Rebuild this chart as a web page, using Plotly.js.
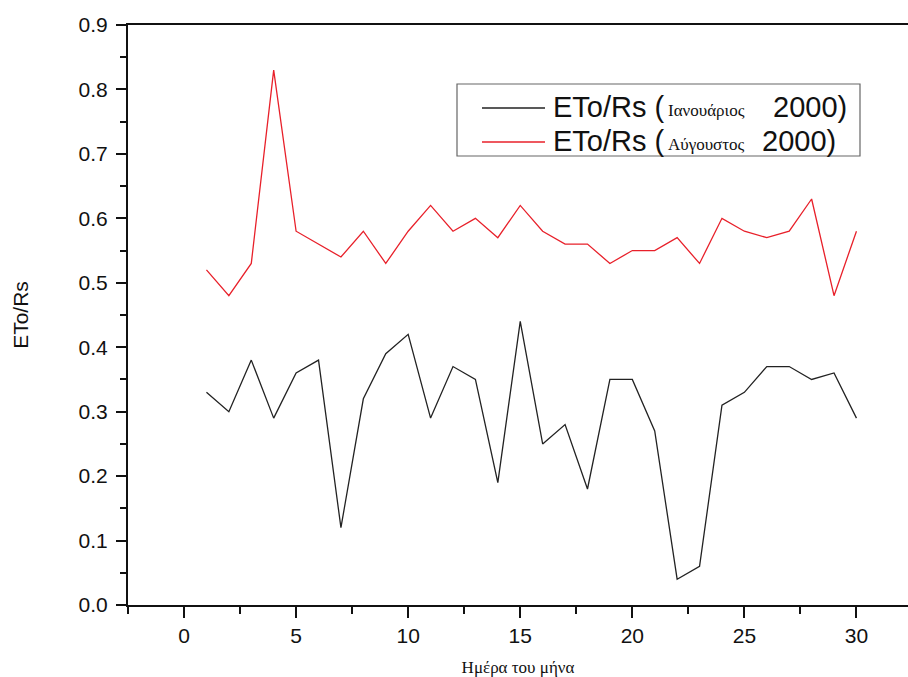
<!DOCTYPE html>
<html>
<head>
<meta charset="utf-8">
<script src="https://cdn.plot.ly/plotly-3.0.1.min.js"></script>
<style>html,body{margin:0;padding:0;background:#fff;}#chart{width:908px;height:677px;}</style>
</head>
<body>
<div id="chart"></div>
<script>
const days = [1,2,3,4,5,6,7,8,9,10,11,12,13,14,15,16,17,18,19,20,21,22,23,24,25,26,27,28,29,30];
const january = [0.33,0.30,0.38,0.29,0.36,0.38,0.12,0.32,0.39,0.42,0.29,0.37,0.35,0.19,0.44,0.25,0.28,0.18,0.35,0.35,0.27,0.04,0.06,0.31,0.33,0.37,0.37,0.35,0.36,0.29];
const august = [0.52,0.48,0.53,0.83,0.58,0.56,0.54,0.58,0.53,0.58,0.62,0.58,0.60,0.57,0.62,0.58,0.56,0.56,0.53,0.55,0.55,0.57,0.53,0.60,0.58,0.57,0.58,0.63,0.48,0.58];
const xTicks = [0,5,10,15,20,25,30];
const yTicks = [0,0.1,0.2,0.3,0.4,0.5,0.6,0.7,0.8,0.9];
const seriesLabel = 'ETo/Rs (';
const monthNames = ['Ιανουάριος', 'Αύγουστος'];
const yearLabel = '2000)';
const seriesColors = ['#222222', '#e8202a'];

const sans = 'Liberation Sans, Arial, sans-serif';
const serif = 'Liberation Serif, Times New Roman, serif';

const traces = [
  {x: days, y: january, type: 'scatter', mode: 'lines', line: {color: seriesColors[0], width: 1.3},
   name: seriesLabel + monthNames[0] + ' ' + yearLabel, showlegend: false},
  {x: days, y: august, type: 'scatter', mode: 'lines', line: {color: seriesColors[1], width: 1.3},
   name: seriesLabel + monthNames[1] + ' ' + yearLabel, showlegend: false}
];

// legend drawn in paper coordinates (pixel -> paper helpers)
const L = 128, W = 780, B = 605, H = 580;
const px = (v) => (v - L) / W;
const py = (v) => (B - v) / H;

const rowY = [107, 141];
const smallY = [110, 144];
const yearX = [771, 760];

const shapes = [
  {type: 'rect', xref: 'paper', yref: 'paper', x0: px(457), x1: px(860), y0: py(156), y1: py(84),
   line: {color: '#666', width: 1.2}, fillcolor: '#fff', layer: 'above'}
];
const annotations = [];
for (let i = 0; i < 2; i++) {
  shapes.push({type: 'line', xref: 'paper', yref: 'paper', x0: px(482), x1: px(545), y0: py(rowY[i] + 1), y1: py(rowY[i] + 1),
    line: {color: seriesColors[i], width: 1.3}, layer: 'above'});
  annotations.push({xref: 'paper', yref: 'paper', x: px(551), y: py(rowY[i]), xanchor: 'left', yanchor: 'middle',
    text: seriesLabel, showarrow: false, font: {family: sans, size: 29, color: '#111'}});
  annotations.push({xref: 'paper', yref: 'paper', x: px(666), y: py(smallY[i]), xanchor: 'left', yanchor: 'middle',
    text: monthNames[i], showarrow: false, font: {family: serif, size: 17, color: '#111'}});
  annotations.push({xref: 'paper', yref: 'paper', x: px(yearX[i]), y: py(rowY[i]), xanchor: 'left', yanchor: 'middle',
    text: yearLabel, showarrow: false, font: {family: sans, size: 29, color: '#111'}});
}

const layout = {
  width: 908, height: 677,
  margin: {l: 128, r: 0, t: 25, b: 72},
  paper_bgcolor: '#fff', plot_bgcolor: '#fff',
  showlegend: false,
  font: {family: sans, color: '#111'},
  xaxis: {
    range: [-2.5, 32.3], tickvals: xTicks, ticktext: xTicks.map(String),
    ticks: 'outside', ticklen: 11, tickwidth: 2, tickcolor: '#111',
    minor: {dtick: 2.5, tick0: 0, ticks: 'outside', ticklen: 7, tickwidth: 2, tickcolor: '#111'},
    showline: true, linecolor: '#111', linewidth: 2, mirror: true,
    showgrid: false, zeroline: false,
    tickfont: {family: sans, size: 21, color: '#111'},
    title: {text: 'Ημέρα του μήνα', font: {family: serif, size: 17, color: '#111'}, standoff: 18}
  },
  yaxis: {
    range: [0, 0.9], tickvals: yTicks, ticktext: yTicks.map(v => v.toFixed(1)),
    ticks: 'outside', ticklen: 10, tickwidth: 2, tickcolor: '#111',
    minor: {dtick: 0.05, tick0: 0, ticks: 'outside', ticklen: 6, tickwidth: 2, tickcolor: '#111'},
    showline: true, linecolor: '#111', linewidth: 2, mirror: false,
    showgrid: false, zeroline: false, ticklabelstandoff: 4,
    tickfont: {family: sans, size: 21, color: '#111'},
    title: {text: 'ETo/Rs', font: {family: sans, size: 21, color: '#111'}, standoff: 44}
  },
  shapes: shapes,
  annotations: annotations
};

Plotly.newPlot('chart', traces, layout, {displayModeBar: false, staticPlot: true});
</script>
</body>
</html>
